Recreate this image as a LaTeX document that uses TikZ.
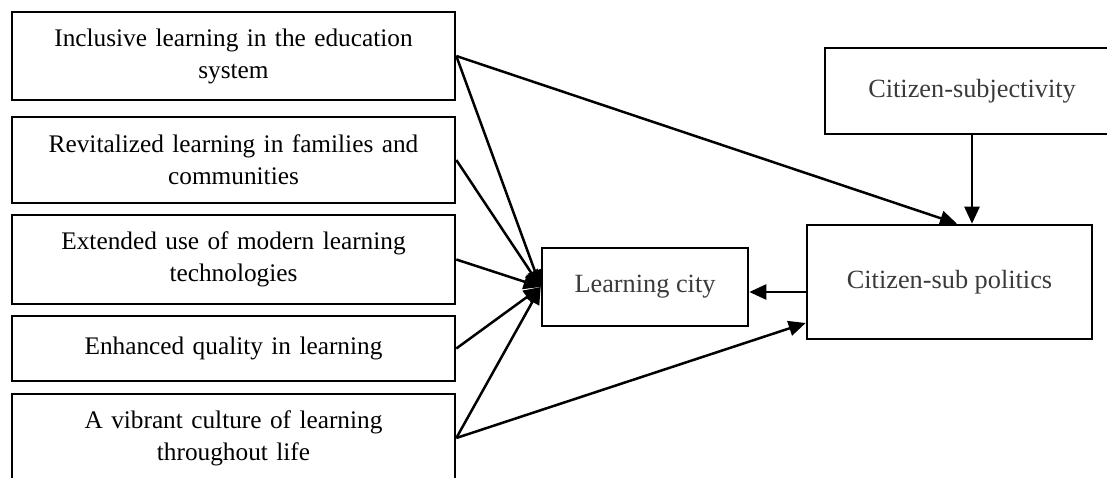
\documentclass[tikz,border=0pt]{standalone}
\usepackage{fontspec}
\setmainfont{Liberation Serif}
\usetikzlibrary{arrows.meta,calc}
\definecolor{labelgray}{HTML}{3A3A3A}
\begin{document}
\begin{tikzpicture}[x=1pt,y=1pt,
  box/.style={draw=black, line width=2.6pt, inner sep=0pt, align=center},
  srcbox/.style={box, minimum width=443pt, text width=436pt,
    font=\fontsize{25.3}{32}\selectfont},
  keybox/.style={box, text=labelgray, font=\fontsize{26.3}{32}\selectfont},
  link/.style={line width=2.5pt, -{Triangle[length=17pt,width=15pt]}}]
\useasboundingbox (0,0) rectangle (1107,477);
\clip (0,0) rectangle (1107,477);

% the five sources on the left
\node[srcbox, minimum height=88pt] (s1) at (233.5,421)
  {Inclusive learning in the education\\system};
\node[srcbox, minimum height=86pt] (s2) at (233.5,317)
  {Revitalized learning in families and\\communities};
\node[srcbox, minimum height=89pt] (s3) at (233.5,217.5)
  {Extended use of modern learning\\technologies};
\node[srcbox, minimum height=65pt] (s4) at (233.5,128.5)
  {Enhanced quality in learning};
\node[srcbox, minimum height=88pt] (s5) at (233.5,39)
  {A vibrant culture of learning\\throughout life};

% learning city and the citizen boxes
\node[keybox, minimum width=206pt, minimum height=78pt] (lc) at (645,190)
  {Learning city};
\node[keybox, minimum width=285pt, minimum height=114pt] (csp) at (949.5,195)
  {Citizen-sub politics};
\node[keybox, minimum width=294pt, minimum height=86pt] (cs) at (972,386)
  {Citizen-subjectivity};

% anchor points on citizen-sub politics
\coordinate (cspTop) at ([xshift=7.5pt]csp.north);
\coordinate (cspLow) at ([yshift=-41pt]csp.west);
\coordinate (cspOut) at ([yshift=-10pt]csp.west);

% connectors
\foreach \s in {s1,s2,s3,s4,s5}
  \draw[link] (\s.east) -- (lc.west);
\draw[link] (s1.east) -- (cspTop);
\draw[link] (s5.east) -- (cspLow);
\draw[link] (cs.south) -- (cs.south |- csp.north);
\draw[link] (cspOut) -- (cspOut -| lc.east);
\end{tikzpicture}
\end{document}
